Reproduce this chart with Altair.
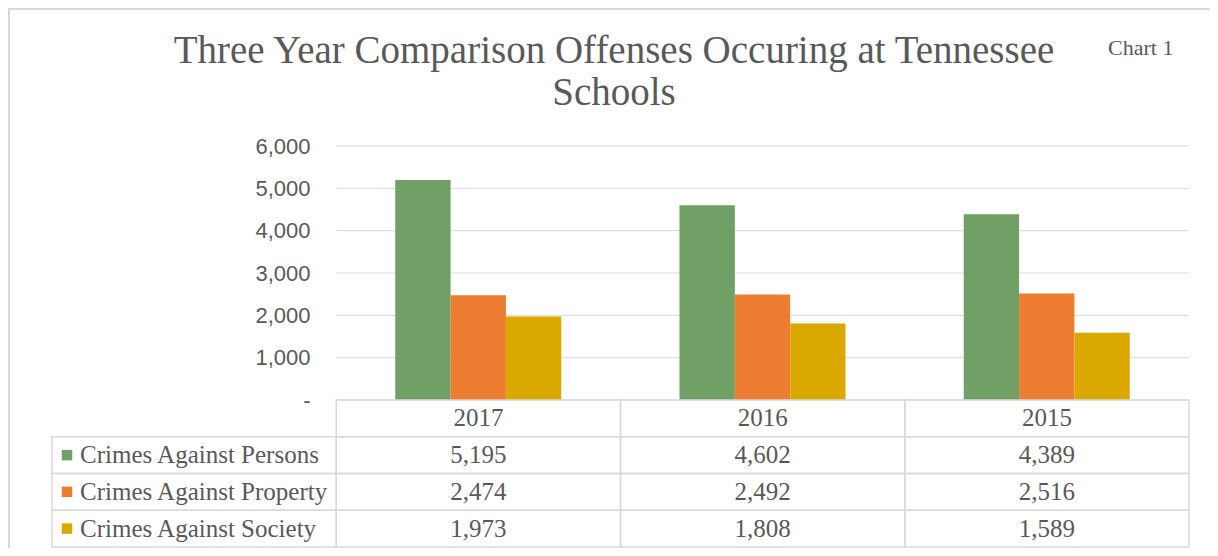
import altair as alt
import pandas as pd

# ---- data ----
years = ["2017", "2016", "2015"]
series = ["Crimes Against Persons", "Crimes Against Property", "Crimes Against Society"]
persons = [5195, 4602, 4389]
property_ = [2474, 2492, 2516]
society = [1973, 1808, 1589]
colors = ["#70A065", "#ED7D31", "#DBA800"]
y_ticks = [0, 1000, 2000, 3000, 4000, 5000, 6000]
title_lines = ["Three Year Comparison Offenses Occuring at Tennessee", "Schools"]
chart_label = "Chart 1"

LABEL_COL = "label"
cols = [LABEL_COL] + years
rows = ["header"] + series
values = [persons, property_, society]

bars = pd.DataFrame(
    [{"year": y, "series": s, "value": v[i], "text": f"{v[i]:,}"}
     for s, v in zip(series, values) for i, y in enumerate(years)]
)
cells = pd.DataFrame(
    [{"col": c, "row": "header"} for c in years]
    + [{"col": c, "row": s} for s in series for c in cols]
)
headers = pd.DataFrame([{"col": c, "row": "header"} for c in years])
labels = pd.DataFrame([{"col": LABEL_COL, "row": s} for s in series])
ticks = pd.DataFrame({"tick": y_ticks, "x0": years[0], "x1": years[-1]})

W, H = 852, 254
TABLE_H = 401
GRAY = "#595959"
LINE = "#D9D9D9"
SERIF = "Liberation Serif"
Y_DOMAIN = [0, 6000]

x_scale = alt.Scale(domain=cols, range=[-285, W], paddingInner=0, paddingOuter=0)
tab_y = alt.Scale(domain=rows, range=[H, TABLE_H], paddingInner=0, paddingOuter=0)
color_scale = alt.Scale(domain=series, range=colors)

grid = alt.Chart(ticks).mark_rule(color=LINE, strokeWidth=1).encode(
    y=alt.Y("tick:Q", scale=alt.Scale(domain=Y_DOMAIN), axis=None),
    x=alt.X("x0:N", scale=x_scale, axis=None, bandPosition=0),
    x2=alt.X2("x1:N", bandPosition=1),
)

bar = alt.Chart(bars).mark_bar().encode(
    x=alt.X("year:N", scale=x_scale, axis=None, sort=cols),
    xOffset=alt.XOffset("series:N", sort=series,
                        scale=alt.Scale(domain=series, paddingInner=0, paddingOuter=0,
                                        range=[59, 225])),
    y=alt.Y("value:Q", scale=alt.Scale(domain=Y_DOMAIN),
            axis=alt.Axis(values=y_ticks, title=None, grid=False, domain=False,
                          ticks=False, labelPadding=27,
                          labelFont="Liberation Sans", labelFontSize=22,
                          labelColor=GRAY,
                          labelExpr="datum.value == 0 ? '-\u00a0\u00a0' : format(datum.value, ',')")),
    color=alt.Color("series:N", scale=color_scale, legend=None),
)

cell_rect = alt.Chart(cells).mark_rect(fill="transparent", stroke=LINE, strokeWidth=1.5).encode(
    x=alt.X("col:N", scale=x_scale, axis=None),
    y=alt.Y("row:N", scale=tab_y, axis=None),
)

head_txt = alt.Chart(headers).mark_text(font=SERIF, fontSize=25, color=GRAY, baseline="middle").encode(
    x=alt.X("col:N", scale=x_scale, axis=None),
    y=alt.Y("row:N", scale=tab_y, axis=None),
    text="col:N",
)

val_txt = alt.Chart(bars).mark_text(font=SERIF, fontSize=25, color=GRAY, baseline="middle").encode(
    x=alt.X("year:N", scale=x_scale, axis=None),
    y=alt.Y("series:N", scale=tab_y, axis=None),
    text="text:N",
)

lab_txt = alt.Chart(labels).mark_text(font=SERIF, fontSize=25, color=GRAY, baseline="middle",
                                      align="left", dx=28).encode(
    x=alt.X("col:N", scale=x_scale, axis=None, bandPosition=0),
    y=alt.Y("row:N", scale=tab_y, axis=None),
    text="row:N",
)

lab_sq = alt.Chart(labels).mark_square(size=110, opacity=1, xOffset=15).encode(
    x=alt.X("col:N", scale=x_scale, axis=None, bandPosition=0),
    y=alt.Y("row:N", scale=tab_y, axis=None),
    color=alt.Color("row:N", scale=color_scale, legend=None),
)

title_txt = alt.Chart(pd.DataFrame({"t": ["\n".join(title_lines)]})).mark_text(
    font=SERIF, fontSize=39, color=GRAY, align="center", baseline="alphabetic",
    lineBreak="\n", lineHeight=42
).encode(x=alt.value(614 - 337), y=alt.value(63 - 146), text="t:N")

chart_lbl = alt.Chart(pd.DataFrame({"t": [chart_label]})).mark_text(
    font=SERIF, fontSize=22, color=GRAY, align="left", baseline="alphabetic"
).encode(x=alt.value(771), y=alt.value(-91), text="t:N")

border_left = alt.Chart(pd.DataFrame({"a": [0]})).mark_rule(color=LINE, strokeWidth=2).encode(
    x=alt.value(-328), y=alt.value(-138), y2=alt.value(H + 148))
border_top = alt.Chart(pd.DataFrame({"a": [0]})).mark_rule(color=LINE, strokeWidth=2).encode(
    x=alt.value(-329), x2=alt.value(W + 21), y=alt.value(-137))

chart = alt.layer(
    border_left, border_top, grid, bar, cell_rect, head_txt, val_txt, lab_txt, lab_sq,
    title_txt, chart_lbl
).resolve_scale(y="independent").properties(
    width=W, height=H,
    background="white",
    padding={"left": 329, "top": 138, "right": 21, "bottom": 148},
    autosize=alt.AutoSizeParams(type="none"),
).configure_view(stroke="transparent", strokeWidth=0)

chart.save("out.html", embed_options={"renderer": "svg", "actions": False})
